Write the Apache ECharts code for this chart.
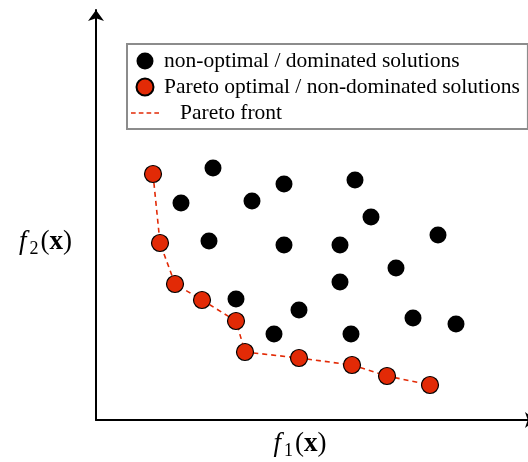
<!DOCTYPE html>
<html>
<head>
<meta charset="utf-8">
<script src="https://cdn.jsdelivr.net/npm/echarts@6/dist/echarts.min.js"></script>
<style>
html, body { margin: 0; padding: 0; background: #fff; }
#chart { width: 528px; height: 462px; }
</style>
</head>
<body>
<div id="chart"></div>
<script>
// objective values (f1, f2), arbitrary units
var dominated = [
  [117, 252], [85, 217], [188, 236], [259, 240], [156, 219],
  [113, 179], [275, 203], [188, 175], [244, 175], [342, 185],
  [300, 152], [140, 121], [244, 138], [203, 110], [317, 102],
  [360, 96], [178, 86], [255, 86]
];
var pareto = [
  [57, 246], [64, 177], [79, 136], [106, 120], [140, 99],
  [149, 68], [203, 62], [256, 55], [291, 44], [334, 35]
];
var names = [
  "non-optimal / dominated solutions",
  "Pareto optimal / non-dominated solutions",
  "Pareto front"
];

var red = "#e22a06";
var serif = "'Liberation Serif', 'DejaVu Serif', serif";
var axisRich = {
  f: { fontFamily: serif, fontStyle: "italic", fontSize: 27, lineHeight: 32, padding: [0, 3, 0, 0], color: "#000" },
  s: { fontFamily: serif, fontSize: 18, lineHeight: 22, verticalAlign: "bottom", padding: [0, 2, 0, 0], color: "#000" },
  p: { fontFamily: serif, fontSize: 27, lineHeight: 32, color: "#000" },
  x: { fontFamily: serif, fontWeight: "bold", fontSize: 27, lineHeight: 32, color: "#000" }
};
var dashIcon = "path://M0,0h6v2h-6z M10,0h6v2h-6z M20,0h6v2h-6z M30,0h6v2h-6z";

var chart = echarts.init(document.getElementById("chart"));
chart.setOption({
  animation: false,
  grid: { left: 96, right: -8, top: 10, bottom: 42, containLabel: false, outerBoundsMode: "none" },
  legend: {
    orient: "vertical",
    left: 127,
    top: 44,
    padding: [6, 8, 5, 4],
    itemGap: 4,
    itemWidth: 28,
    itemHeight: 17,
    backgroundColor: "#fff",
    borderColor: "#8c8c8c",
    borderWidth: 2,
    borderRadius: 0,
    textStyle: { fontFamily: serif, fontSize: 21.5, color: "#000" },
    data: [
      { name: names[0], icon: "circle" },
      { name: names[1], icon: "circle" },
      { name: names[2], icon: dashIcon, textStyle: { padding: [0, 0, 0, 16] } }
    ]
  },
  xAxis: {
    type: "value",
    min: 0,
    max: 440,
    splitLine: { show: false },
    axisTick: { show: false },
    axisLabel: { show: false },
    axisLine: { onZero: false, symbol: ["none", "arrow"], symbolSize: [12, 11], lineStyle: { color: "#000", width: 2 } },
    name: "{f|f}{s|1}{p|(}{x|x}{p|)}",
    nameLocation: "middle",
    nameGap: 8,
    nameTextStyle: { rich: axisRich, padding: [0, 32, 0, 0] }
  },
  yAxis: {
    type: "value",
    min: 0,
    max: 410,
    splitLine: { show: false },
    axisTick: { show: false },
    axisLabel: { show: false },
    axisLine: { onZero: false, symbol: ["none", "arrow"], symbolSize: [12, 11], lineStyle: { color: "#000", width: 2 } },
    name: "{f|f}{s|2}{p|(}{x|x}{p|)}",
    nameLocation: "middle",
    nameRotate: 0,
    nameGap: 24,
    nameTextStyle: { rich: axisRich, padding: [54, 0, 0, 0] }
  },
  series: [
    {
      name: names[0],
      type: "scatter",
      symbolSize: 17,
      itemStyle: { color: "#000", opacity: 1 },
      data: dominated,
      z: 3
    },
    {
      name: names[2],
      type: "line",
      symbol: "none",
      lineStyle: { color: red, type: [5, 4], width: 1.6 },
      itemStyle: { color: red },
      data: pareto,
      z: 2
    },
    {
      name: names[1],
      type: "scatter",
      symbolSize: 17,
      itemStyle: { color: red, borderColor: "#000", borderWidth: 1.2, opacity: 1 },
      data: pareto,
      z: 4
    }
  ]
});
</script>
</body>
</html>
